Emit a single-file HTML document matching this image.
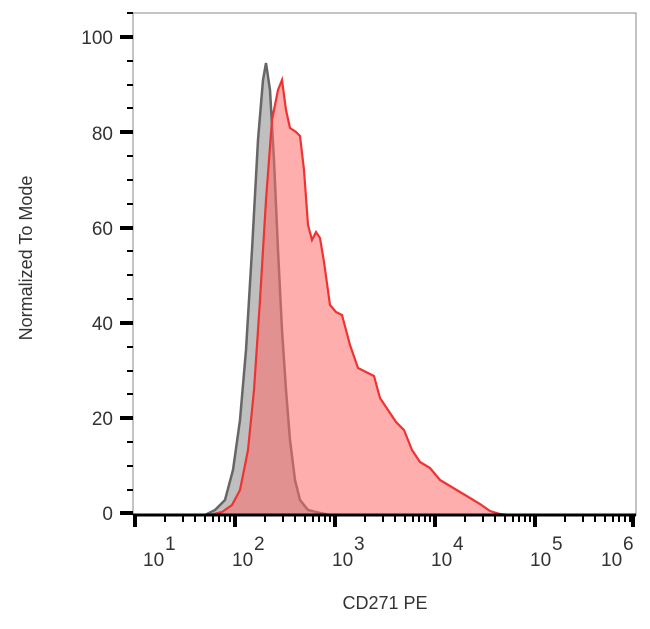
<!DOCTYPE html><html><head><style>body{margin:0;background:#fff;font-family:"Liberation Sans",sans-serif}</style></head><body>
<svg width="650" height="624" viewBox="0 0 650 624" xmlns="http://www.w3.org/2000/svg">
<rect x="133" y="13" width="503" height="502" fill="#fff" stroke="#888" stroke-width="1"/>
<path d="M205,515 L215,510 L225,500 L233,470 L240,420 L246,350 L252,250 L258,140 L263,80 L266,63 L270,90 L274,160 L278,250 L282,330 L286,390 L290,440 L295,480 L300,500 L308,510 L320,513 L330,515 Z" fill="#b8b8b8" stroke="#666" stroke-width="2.5" fill-opacity="0.9"/>
<path d="M210,515 L222,512 L232,505 L240,490 L248,450 L254,390 L260,300 L266,200 L272,120 L278,90 L282,80 L286,110 L290,128 L296,132 L300,136 L304,170 L308,225 L312,240 L316,232 L320,238 L324,262 L330,305 L336,312 L342,315 L350,345 L358,368 L366,372 L374,376 L380,398 L388,410 L396,422 L404,430 L412,450 L420,462 L430,468 L440,480 L450,486 L460,492 L470,498 L480,504 L490,511 L500,514 L510,515 Z" fill="#ff6b6b" fill-opacity="0.55" stroke="#ee3333" stroke-width="2.2"/>
<g stroke="#000">
<line x1="133" y1="515" x2="636" y2="515" stroke-width="3"/>
<g stroke-width="2">
<line x1="120" y1="37" x2="133" y2="37" stroke-width="4"/><line x1="120" y1="132" x2="133" y2="132" stroke-width="4"/><line x1="120" y1="228" x2="133" y2="228" stroke-width="4"/><line x1="120" y1="323" x2="133" y2="323" stroke-width="4"/><line x1="120" y1="418" x2="133" y2="418" stroke-width="4"/><line x1="120" y1="513" x2="133" y2="513" stroke-width="4"/>
<path d="M127,13h6M127,61h6M127,85h6M127,108h6M127,156h6M127,180h6M127,204h6M127,251h6M127,275h6M127,299h6M127,347h6M127,371h6M127,394h6M127,442h6M127,466h6M127,490h6"/>
</g>
<path d="M135,515v12M235,515v12M335,515v12M435,515v12M535,515v12M633,515v12" stroke-width="4"/>
<path d="M165,515v7M183,515v7M195,515v7M205,515v7M213,515v7M219,515v7M225,515v7M230,515v7M265,515v7M283,515v7M295,515v7M305,515v7M313,515v7M319,515v7M325,515v7M330,515v7M365,515v7M383,515v7M395,515v7M405,515v7M413,515v7M419,515v7M425,515v7M430,515v7M465,515v7M483,515v7M495,515v7M505,515v7M513,515v7M519,515v7M525,515v7M530,515v7M565,515v7M583,515v7M595,515v7M605,515v7M613,515v7M619,515v7M625,515v7M630,515v7" stroke-width="2"/>
</g>
<g font-size="19" fill="#333" text-anchor="end">
<text x="113" y="44">100</text><text x="113" y="140">80</text><text x="113" y="235">60</text><text x="113" y="330">40</text><text x="113" y="425">20</text><text x="113" y="520">0</text>
</g>
<g font-size="19" fill="#333">
<text x="143" y="566">10</text><text x="165" y="550">1</text>
<text x="232" y="566">10</text><text x="254" y="550">2</text>
<text x="332" y="566">10</text><text x="354" y="550">3</text>
<text x="431" y="566">10</text><text x="453" y="550">4</text>
<text x="530" y="566">10</text><text x="552" y="550">5</text>
<text x="601" y="566">10</text><text x="623" y="550">6</text>
</g>
<text x="385" y="609" font-size="18" fill="#333" text-anchor="middle">CD271 PE</text>
<text transform="translate(32,258) rotate(-90)" font-size="18" fill="#333" text-anchor="middle">Normalized To Mode</text>
</svg></body></html>
